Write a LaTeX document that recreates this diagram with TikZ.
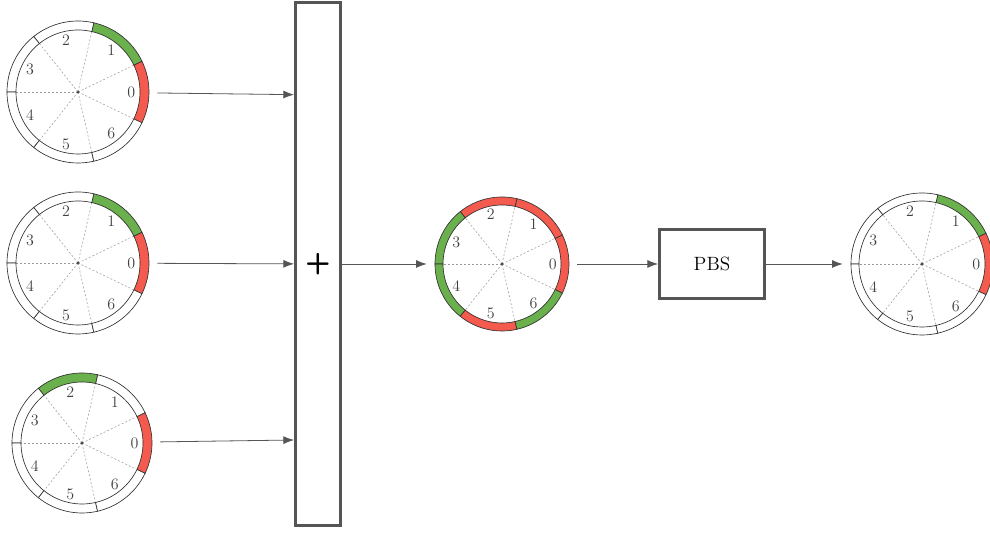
\documentclass[tikz,border=0pt]{standalone}
\usetikzlibrary{arrows.meta,calc}
\definecolor{ringgreen}{RGB}{106,176,76}
\definecolor{ringred}{RGB}{245,90,78}
\definecolor{edgegray}{RGB}{85,85,85}
\tikzset{
  wheel/.style={circle, inner sep=0pt},
  segment/.style={draw=black!80, line width=0.5pt},
  spoke/.style={draw=black!40, dash pattern=on 1.5pt off 1.5pt, line width=0.4pt},
  digit/.style={text=black!75, font=\large},
  blockbox/.style={draw=edgegray, line width=2.2pt, inner sep=0pt},
  link/.style={draw=edgegray, line width=0.6pt, -{Latex[length=8pt,width=6pt]}},
}
% name, centre, inner radius, outer radius, colours of segments 0..6
\newcommand{\phasewheel}[5]{%
  \begin{scope}[shift={(#2)}]
    \foreach \c [count=\k from 0] in {#5} {
      \pgfmathsetmacro{\a}{(2*\k-1)*180/7}
      \pgfmathsetmacro{\b}{(2*\k+1)*180/7}
      \filldraw[segment, fill=\c] (\a:#3) arc[start angle=\a, end angle=\b, radius=#3]
        -- (\b:#4) arc[start angle=\b, end angle=\a, radius=#4] -- cycle;
      \draw[spoke] (0,0) -- (\b:#3);
      \node[digit] at (\k*360/7:0.86*#3) {\k};
    }
    \fill[black!70] (0,0) circle (1.2pt);
    \node[wheel, minimum size=2*#4*0.75pt+12pt] (#1) at (0,0) {};
  \end{scope}}
\begin{document}
\begin{tikzpicture}[x=0.75pt, y=0.75pt]
\useasboundingbox (0,0) rectangle (990,534);
\phasewheel{in1}{78,442}{62}{71}{ringred,ringgreen,white,white,white,white,white}
\phasewheel{in2}{78,271}{62}{71}{ringred,ringgreen,white,white,white,white,white}
\phasewheel{in3}{82,91}{61}{70}{ringred,white,ringgreen,white,white,white,white}
\phasewheel{mix}{502,270}{59}{67}{ringred,ringred,ringred,ringgreen,ringgreen,ringred,ringgreen}
\phasewheel{out}{922,270}{63}{71}{ringred,ringgreen,white,white,white,white,white}
\node[blockbox, minimum width=33.75pt, minimum height=392pt] (sum) at (318,270)
  {\fontsize{22}{24}\selectfont\sffamily\bfseries +};
\node[blockbox, minimum width=78.75pt, minimum height=51.75pt] (pbs) at (712,270) {\Large PBS};
\draw[link] (in1) -- ([yshift=127pt]sum.west);
\draw[link] (in2) -- (sum);
\draw[link] (in3) -- ([yshift=-132pt]sum.west);
\draw[link] (sum) -- (mix);
\draw[link] (mix) -- (pbs);
\draw[link] (pbs) -- (out);
\end{tikzpicture}
\end{document}
